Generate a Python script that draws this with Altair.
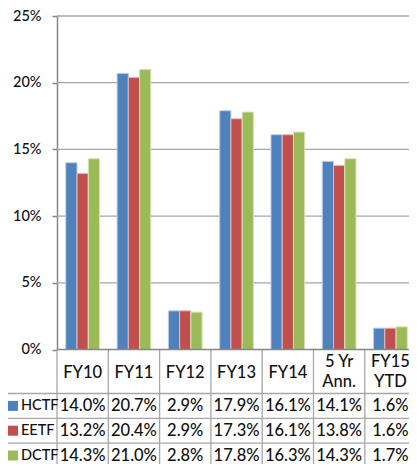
import altair as alt
import pandas as pd

# ---- data ----
categories = ["FY10", "FY11", "FY12", "FY13", "FY14", "5 Yr\nAnn.", "FY15\nYTD"]
series = ["HCTF", "EETF", "DCTF"]
hctf = [14.0, 20.7, 2.9, 17.9, 16.1, 14.1, 1.6]
eetf = [13.2, 20.4, 2.9, 17.3, 16.1, 13.8, 1.6]
dctf = [14.3, 21.0, 2.8, 17.8, 16.3, 14.3, 1.7]
y_ticks = [0, 5, 10, 15, 20, 25]

colors = ["#4F81BD", "#C0504D", "#9BBB59"]
edge_colors = ["#B9CDE5", "#E6B9B8", "#D7E4BD"]

rows = []
for s, vals in zip(series, [hctf, eetf, dctf]):
    for c, v in zip(categories, vals):
        rows.append({"cat": c, "series": s, "value": v / 100})
df = pd.DataFrame(rows)
cats_df = pd.DataFrame({"cat": categories})
series_df = pd.DataFrame({"series": series})
grid_df = pd.DataFrame({"tick": [t / 100 for t in y_ticks if t > 0]})
zero_df = pd.DataFrame({"tick": [0.0]})

head_rows = []
for c in categories:
    parts = c.split("\n")
    for i, p in enumerate(parts):
        head_rows.append({"cat": c, "text": p, "line": i, "nlines": len(parts)})
head_df = pd.DataFrame(head_rows)

# ---- layout / style ----
LEFT = 49
TOP = 8
W = 352
H = 448
ZERO = 333.5
STEP = 51.3
ROW_TOP = 377.5
ROW_STEP = 24.8
ROW_BOTTOM = ROW_TOP + 3 * ROW_STEP
HEAD_SINGLE = 357
HEAD_LINE1 = 346
HEAD_LINE2 = 366
FONT = "Lato"
WEIGHT = 500
GRID = "#a6a6a6"
AXIS = "#868686"
TXT = "#111111"
FS = 16.5

x_scale = alt.Scale(type="band", domain=categories, range=[0, STEP * len(categories)],
                    paddingInner=0, paddingOuter=0)
yq_scale = alt.Scale(domain=[0, 0.25], range=[ZERO, 0], nice=False)
row_point = alt.Scale(type="point", domain=series, range=[ROW_TOP, ROW_BOTTOM], padding=0.5)
row_band = alt.Scale(type="band", domain=series, range=[ROW_TOP, ROW_BOTTOM],
                     paddingInner=0, paddingOuter=0)
color_scale = alt.Scale(domain=series, range=colors)
x_cat = alt.X("cat:N", sort=categories, scale=x_scale, axis=None)

grid = alt.Chart(grid_df).mark_rule(color=GRID, strokeWidth=1.3).encode(
    y=alt.Y("tick:Q", scale=yq_scale, axis=None),
    x=alt.value(0), x2=alt.value(W))

vlines = alt.Chart(cats_df).mark_rule(color=GRID, strokeWidth=1.3).encode(
    x=alt.X("cat:N", sort=categories, scale=x_scale, axis=None, bandPosition=0),
    y=alt.value(ZERO), y2=alt.value(H))

hlines = alt.Chart(series_df).mark_rule(color=GRID, strokeWidth=1.3).encode(
    y=alt.Y("series:N", sort=series, scale=row_band, axis=None, bandPosition=0),
    x=alt.value(-LEFT), x2=alt.value(W))

bars = alt.Chart(df).mark_bar(clip=True, strokeWidth=1).encode(
    x=x_cat,
    xOffset=alt.XOffset("series:N", sort=series,
                        scale=alt.Scale(domain=series, paddingInner=0, paddingOuter=0.7826)),
    y=alt.Y("value:Q", scale=yq_scale,
            axis=alt.Axis(values=[t / 100 for t in y_ticks], format=".0%", grid=False,
                          domainColor=AXIS, domainWidth=1.5, tickColor=AXIS, tickWidth=1.5,
                          tickSize=5, labelPadding=11, labelFont=FONT, labelFontSize=14.5,
                          labelFontWeight=WEIGHT, labelColor=TXT, title=None)),
    color=alt.Color("series:N", scale=color_scale, legend=None),
    stroke=alt.Stroke("series:N", scale=alt.Scale(domain=series, range=edge_colors), legend=None),
)

zero = alt.Chart(zero_df).mark_rule(color=AXIS, strokeWidth=1.5).encode(
    y=alt.Y("tick:Q", scale=yq_scale, axis=None),
    x=alt.value(0), x2=alt.value(W))

text_style = dict(font=FONT, fontSize=FS, fontWeight=WEIGHT, color=TXT, baseline="middle",
                  align="center")

head_single = alt.Chart(head_df).transform_filter("datum.nlines == 1").mark_text(
    **text_style).encode(x=x_cat, y=alt.value(HEAD_SINGLE), text="text:N")
head_l1 = alt.Chart(head_df).transform_filter("datum.nlines == 2 && datum.line == 0").mark_text(
    **text_style).encode(x=x_cat, y=alt.value(HEAD_LINE1), text="text:N")
head_l2 = alt.Chart(head_df).transform_filter("datum.nlines == 2 && datum.line == 1").mark_text(
    **text_style).encode(x=x_cat, y=alt.value(HEAD_LINE2), text="text:N")

cells = alt.Chart(df).mark_text(**text_style).encode(
    x=x_cat,
    y=alt.Y("series:N", sort=series, scale=row_point, axis=None),
    text=alt.Text("value:Q", format=".1%"))

squares = alt.Chart(series_df).mark_square(size=100, opacity=1).encode(
    x=alt.value(-44),
    y=alt.Y("series:N", sort=series, scale=row_point, axis=None),
    color=alt.Color("series:N", scale=color_scale, legend=None))

labels = alt.Chart(series_df).mark_text(font=FONT, fontSize=14.5, fontWeight=WEIGHT, color=TXT,
                                        baseline="middle", align="left").encode(
    x=alt.value(-36),
    y=alt.Y("series:N", sort=series, scale=row_point, axis=None),
    text="series:N")

chart = alt.layer(grid, vlines, hlines, bars, zero, head_single, head_l1, head_l2, cells,
                  squares, labels).resolve_scale(
    y="independent"
).properties(
    width=W, height=H,
    autosize=alt.AutoSizeParams(type="none"),
    padding={"left": LEFT, "top": TOP, "right": 0, "bottom": 0},
).configure_view(strokeWidth=0)

chart.save("out.html", embed_options={"renderer": "svg", "actions": False})
